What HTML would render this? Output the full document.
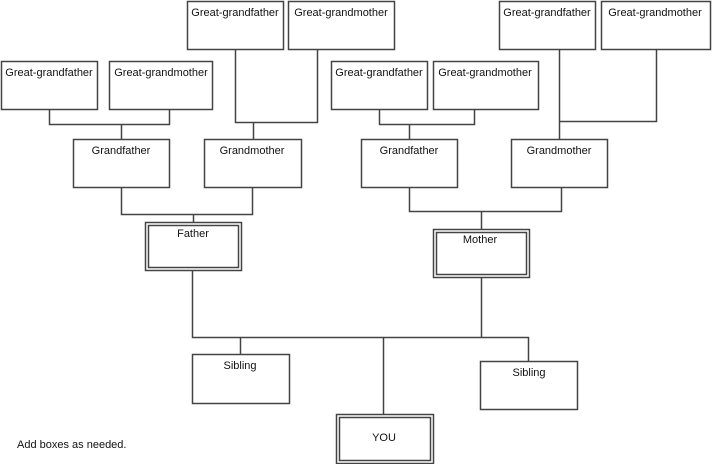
<!DOCTYPE html>
<html><head><style>
body{margin:0;background:#fff;width:712px;height:464px;overflow:hidden}
svg text{font-family:"Liberation Sans",sans-serif;font-size:11px;fill:#111;text-anchor:middle}
</style></head><body>
<svg width="712" height="464" xmlns="http://www.w3.org/2000/svg">
<g fill="#fff" stroke="#444" stroke-width="1.5">
<rect x="1.5" y="61.5" width="96" height="48"/>
<rect x="109.5" y="61.5" width="103" height="48"/>
<rect x="187.5" y="1.5" width="96" height="48"/>
<rect x="288.5" y="1.5" width="106" height="48"/>
<rect x="73.5" y="139.5" width="96" height="48"/>
<rect x="204.5" y="139.5" width="97" height="48"/>
<rect x="331.5" y="61.5" width="96" height="48"/>
<rect x="433.5" y="61.5" width="105" height="48"/>
<rect x="499.5" y="1.5" width="96" height="48"/>
<rect x="601.5" y="1.5" width="109" height="48"/>
<rect x="361.5" y="139.5" width="96" height="48"/>
<rect x="511.5" y="139.5" width="96" height="48"/>
<rect x="192.5" y="354.5" width="97" height="49"/>
<rect x="480.5" y="361.5" width="97" height="48"/>
<rect x="145.5" y="222.5" width="96" height="48"/>
<rect x="148.5" y="225.5" width="90" height="42"/>
<rect x="433.5" y="229.5" width="96" height="48"/>
<rect x="436.5" y="232.5" width="90" height="42"/>
<rect x="336.5" y="414.5" width="97" height="49"/>
<rect x="339.5" y="417.5" width="91" height="43"/>
</g>
<g fill="none" stroke="#444" stroke-width="1.5">
<path d="M49.5 109V124.5H169.5V109M121.5 124.5V139"/>
<path d="M235.5 49V122.5H317.5V49M253.5 122.5V139"/>
<path d="M121.5 187V214.5H252.5V187M193.5 214.5V222"/>
<path d="M379.5 109V124.5H474.5V109M409.5 124.5V139"/>
<path d="M559.5 49V139M559.5 121.5H656.5V49"/>
<path d="M409.5 187V211.5H561.5V187M481.5 211.5V229"/>
<path d="M192.5 270V337.5H528.5V361M481.5 277V337.5M240.5 337.5V354M383.5 337.5V414"/>
</g>
<text x="49" y="76">Great-grandfather</text>
<text x="161" y="76">Great-grandmother</text>
<text x="235" y="16">Great-grandfather</text>
<text x="341" y="16">Great-grandmother</text>
<text x="121" y="154">Grandfather</text>
<text x="252" y="154">Grandmother</text>
<text x="379" y="76">Great-grandfather</text>
<text x="485" y="76">Great-grandmother</text>
<text x="547" y="16">Great-grandfather</text>
<text x="655" y="16">Great-grandmother</text>
<text x="409" y="154">Grandfather</text>
<text x="559" y="154">Grandmother</text>
<text x="193" y="237">Father</text>
<text x="480" y="243">Mother</text>
<text x="240" y="369">Sibling</text>
<text x="529" y="376">Sibling</text>
<text x="384" y="441">YOU</text>
<text x="17" y="448" style="text-anchor:start">Add boxes as needed.</text>
</svg>
</body></html>
